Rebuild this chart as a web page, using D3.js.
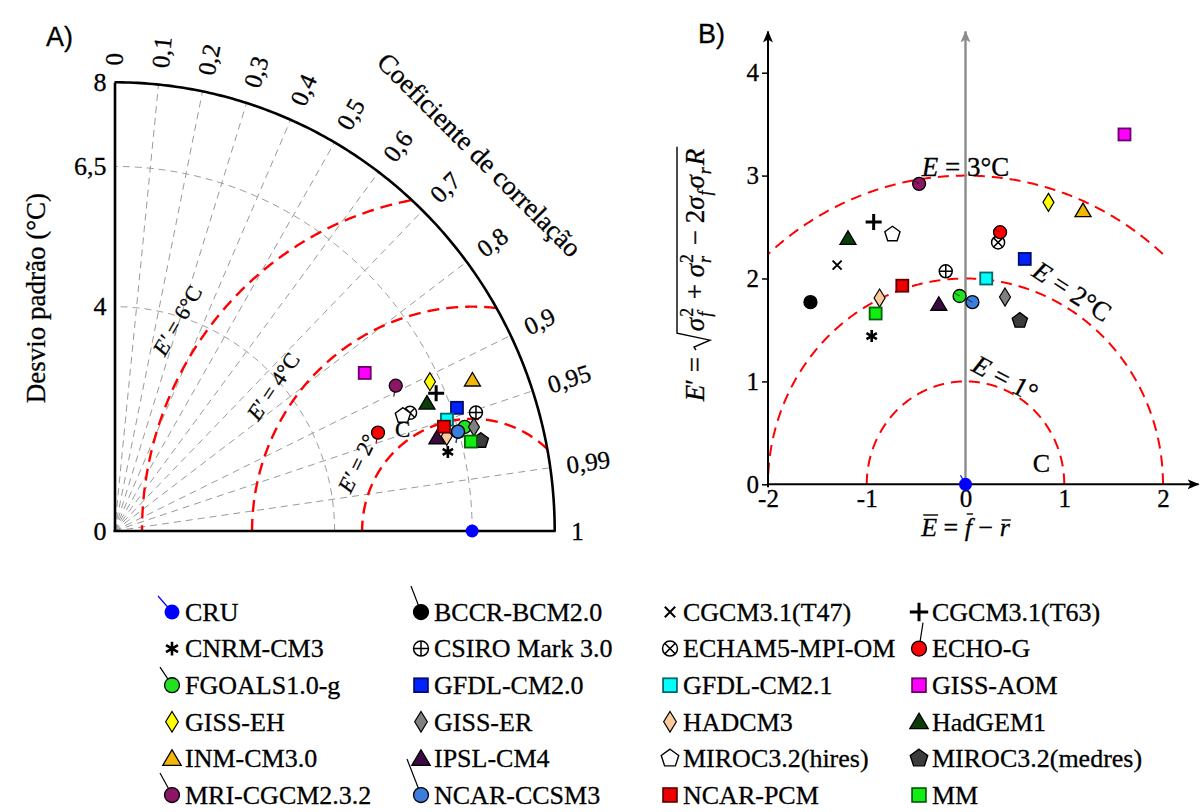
<!DOCTYPE html>
<html>
<head>
<meta charset="utf-8">
<script src="https://cdn.jsdelivr.net/npm/d3@7"></script>
<style>
	body { margin: 0; background: #fff; }
	svg { font-family: "Liberation Serif", serif; }
	svg text { stroke: #000; stroke-width: 0.3px; }
</style>
</head>
<body>
<svg id="chart" width="1200" height="812"></svg>
<script>

// Models, in legend order
var models = ["CRU", "BCCR-BCM2.0", "CGCM3.1(T47)", "CGCM3.1(T63)",
	"CNRM-CM3", "CSIRO Mark 3.0", "ECHAM5-MPI-OM", "ECHO-G",
	"FGOALS1.0-g", "GFDL-CM2.0", "GFDL-CM2.1", "GISS-AOM",
	"GISS-EH", "GISS-ER", "HADCM3", "HadGEM1",
	"INM-CM3.0", "IPSL-CM4", "MIROC3.2(hires)", "MIROC3.2(medres)",
	"MRI-CGCM2.3.2", "NCAR-CCSM3", "NCAR-PCM", "MM"];

// A) Taylor diagram: standard deviation (°C) and correlation
var stdDev = [6.5, 6.49, 6.6, 6.34,
	6.22, 6.90, 5.77, 5.10,
	6.63, 6.60, 6.36, 5.35,
	6.32, 6.79, 6.27, 6.12,
	7.04, 6.09, 5.63, 6.85,
	5.73, 6.49, 6.27, 6.67];
var correlation = [1.0, 0.962, 0.943, 0.922,
	0.974, 0.952, 0.931, 0.939,
	0.960, 0.943, 0.950, 0.850,
	0.907, 0.962, 0.963, 0.928,
	0.924, 0.962, 0.931, 0.972,
	0.892, 0.962, 0.955, 0.971];

// B) mean bias vs centered RMS difference
var meanBias = [0, -1.57, -1.30, -0.93,
	-0.95, -0.20, 0.33, 0.35,
	-0.06, 0.60, 0.21, 1.61,
	0.84, 0.40, -0.87, -1.19,
	1.19, -0.27, -0.74, 0.55,
	-0.47, 0.07, -0.64, -0.91];
var centeredRmse = [0, 1.77, 2.13, 2.55,
	1.44, 2.07, 2.35, 2.45,
	1.83, 2.19, 2.00, 3.40,
	2.74, 1.82, 1.81, 2.39,
	2.66, 1.75, 2.43, 1.59,
	2.92, 1.77, 1.93, 1.66];

var corrTicks = [0, 0.1, 0.2, 0.3, 0.4, 0.5, 0.6, 0.7, 0.8, 0.9, 0.95, 0.99, 1];
var corrTickLabels = ["0", "0,1", "0,2", "0,3", "0,4", "0,5", "0,6", "0,7", "0,8", "0,9", "0,95", "0,99", "1"];
var stdTicks = [0, 4, 6.5, 8];
var stdTickLabels = ["0", "4", "6,5", "8"];
var stdArcs = [4, 6.5];
var rmseArcsA = [2, 4, 6];
var rmseArcsB = [1, 2, 3];
var biasTicks = [-2, -1, 0, 1, 2];
var rmseTicks = [0, 1, 2, 3, 4];

// marker styles
var markerShape = ["circle", "circle", "x", "plus",
	"star", "oplus", "otimes", "circle",
	"circle", "square", "square", "square",
	"diamond", "diamond", "diamond", "triangle",
	"triangle", "triangle", "pentagon", "pentagon",
	"circle", "circle", "square", "square"];
var markerFill = ["#0000ff", "#000000", "#000", "#000",
	"#000", "#ffffff", "#ffffff", "#ff0000",
	"#22e022", "#0022ff", "#00ffff", "#ff00ff",
	"#ffff00", "#808080", "#fbc99c", "#0b3d0b",
	"#f2b705", "#3a0a40", "#ffffff", "#3c3c3c",
	"#8c1665", "#3b7ddd", "#ee0000", "#11ee11"];

var chart = d3.select("#chart");

function drawMarker(g, i, k) {
	var shape = markerShape[i], fill = markerFill[i];
	var edge = (fill === "#ffffff") ? "#000" : d3.color(fill).darker(2.5).formatHex();
	if (shape === "circle") {
		g.append("circle").attr("r", 6.5 * k).attr("fill", fill)
			.attr("stroke", i === 0 ? "none" : "#000").attr("stroke-width", 1.3);
	} else if (shape === "square") {
		g.append("rect").attr("x", -6 * k).attr("y", -6 * k)
			.attr("width", 12 * k).attr("height", 12 * k)
			.attr("fill", fill).attr("stroke", edge).attr("stroke-width", 1.8);
	} else if (shape === "diamond") {
		g.append("path").attr("d", "M0," + (-9 * k) + "L" + (5.5 * k) + ",0L0," + (9 * k) + "L" + (-5.5 * k) + ",0Z")
			.attr("fill", fill).attr("stroke", "#000").attr("stroke-width", 1.2);
	} else if (shape === "triangle") {
		g.append("path").attr("d", "M0," + (-7.5 * k) + "L" + (8 * k) + "," + (6 * k) + "L" + (-8 * k) + "," + (6 * k) + "Z")
			.attr("fill", fill).attr("stroke", "#000").attr("stroke-width", 1.3);
	} else if (shape === "pentagon") {
		var pts = d3.range(5).map(function(j) {
			var a = -Math.PI / 2 + j * 2 * Math.PI / 5;
			return [8 * k * Math.cos(a), 8 * k * Math.sin(a)];
		});
		g.append("path").attr("d", "M" + pts.join("L") + "Z")
			.attr("fill", fill).attr("stroke", "#000").attr("stroke-width", 1.4);
	} else if (shape === "oplus" || shape === "otimes") {
		var r = 6.5 * k, c = (shape === "oplus") ? r : r * 0.707;
		g.append("circle").attr("r", r).attr("fill", "#fff").attr("stroke", "#000").attr("stroke-width", 1.5);
		if (shape === "oplus") {
			g.append("path").attr("d", "M" + (-c) + ",0H" + c + "M0," + (-c) + "V" + c);
		} else {
			g.append("path").attr("d", "M" + (-c) + "," + (-c) + "L" + c + "," + c + "M" + (-c) + "," + c + "L" + c + "," + (-c));
		}
		g.select("path").attr("stroke", "#000").attr("stroke-width", 1.5);
	} else if (shape === "x") {
		var d = 4.5 * k;
		g.append("path").attr("d", "M" + (-d) + "," + (-d) + "L" + d + "," + d + "M" + (-d) + "," + d + "L" + d + "," + (-d))
			.attr("stroke", "#000").attr("stroke-width", 2);
	} else if (shape === "plus") {
		var p = 8 * k;
		g.append("path").attr("d", "M" + (-p) + ",0H" + p + "M0," + (-p) + "V" + p)
			.attr("stroke", "#000").attr("stroke-width", 3);
	} else if (shape === "star") {
		var s = 6 * k, path = "";
		[90, 30, -30].forEach(function(a) {
			var rad = a * Math.PI / 180;
			path += "M" + (s * Math.cos(rad)) + "," + (s * Math.sin(rad)) + "L" + (-s * Math.cos(rad)) + "," + (-s * Math.sin(rad));
		});
		g.append("path").attr("d", path).attr("stroke", "#000").attr("stroke-width", 2.6);
	}
}

// small piecewise math text helper (measures each piece)
function mathText(g, pieces, size) {
	var x = 0, radStart = 0, top = -size;
	pieces.forEach(function(p) {
		if (p.rad === "start") {
			radStart = x;
			x += 19;
			return;
		}
		if (p.rad === "end") {
			g.append("path")
				.attr("d", "M" + radStart + "," + (-8) + "l3,-2l7,16L" + (radStart + 17) + "," + top + "L" + (x + 2) + "," + top)
				.attr("fill", "none").attr("stroke", "#000").attr("stroke-width", 1.4);
			return;
		}
		if (p.ss || p.sub) {
			var sup = p.ss ? p.ss[0] : null, sub = p.ss ? p.ss[1] : p.sub;
			var w = 0;
			if (sup) {
				var t1 = g.append("text").attr("x", x + 1).attr("y", -size * 0.42).attr("font-size", size * 0.66).text(sup);
				w = t1.node().getComputedTextLength();
			}
			var t2 = g.append("text").attr("x", x + 1).attr("y", size * 0.27).attr("font-size", size * 0.66)
				.attr("font-style", "italic").text(sub);
			w = Math.max(w, t2.node().getComputedTextLength());
			x += w + 3;
			return;
		}
		var t = g.append("text").attr("x", x).attr("y", 0).attr("font-size", size)
			.attr("font-style", p.it ? "italic" : "normal")
			.attr("xml:space", "preserve").text(p.t);
		var tw = t.node().getComputedTextLength();
		if (p.bar) {
			g.append("line").attr("x1", x + 2).attr("x2", x + tw + 1)
				.attr("y1", p.bar).attr("y2", p.bar).attr("stroke", "#000").attr("stroke-width", 1.4);
		}
		x += tw + (p.gap || 0);
	});
	return x;
}

// ---------- A) Taylor diagram ----------
var xA = d3.scaleLinear().domain([0, 8]).range([114.5, 554.7]);
var yA = d3.scaleLinear().domain([0, 8]).range([531, 82.3]);

function polar(s, r) {
	var t = Math.acos(r);
	return [xA(s * Math.cos(t)), yA(s * Math.sin(t))];
}
var line = d3.line();
var angles = d3.range(0, 90.25, 0.5);

var taylor = chart.append("g");

// radial correlation grid
corrTicks.filter(function(c) { return c > 0 && c < 1; }).forEach(function(c) {
	taylor.append("path")
		.attr("d", line([polar(0, c), polar(8, c)]))
		.attr("stroke", "#9a9a9a").attr("stroke-width", 1).attr("stroke-dasharray", "7,5").attr("fill", "none");
});

// std arcs
stdArcs.forEach(function(s) {
	taylor.append("path")
		.attr("d", line(angles.map(function(a) { return polar(s, Math.cos(a * Math.PI / 180)); })))
		.attr("stroke", "#9a9a9a").attr("stroke-width", 1).attr("stroke-dasharray", "7,5").attr("fill", "none");
});

// centered RMS arcs around the reference point
var sRef = stdDev[0];
rmseArcsA.forEach(function(e) {
	var pts = d3.range(0, 180.25, 0.25).map(function(a) {
		var rad = a * Math.PI / 180;
		return [sRef + e * Math.cos(rad), e * Math.sin(rad)];
	}).filter(function(p) {
		return p[0] >= 0 && p[0] * p[0] + p[1] * p[1] <= 64;
	});
	taylor.append("path")
		.attr("d", line(pts.map(function(p) { return [xA(p[0]), yA(p[1])]; })))
		.attr("stroke", "#ff0000").attr("stroke-width", 2.4).attr("stroke-dasharray", "12,7").attr("fill", "none");
});

// outer arc and axes
taylor.append("path")
	.attr("d", line(angles.map(function(a) { return polar(8, Math.cos(a * Math.PI / 180)); })))
	.attr("stroke", "#000").attr("stroke-width", 2.6).attr("fill", "none");
taylor.append("line")
	.attr("x1", xA(0) - 1).attr("x2", xA(8) + 1).attr("y1", yA(0)).attr("y2", yA(0))
	.attr("stroke", "#000").attr("stroke-width", 2.6);

var stdAxis = taylor.append("g")
	.attr("transform", "translate(" + xA(0) + ",0)")
	.call(d3.axisLeft(yA).tickValues(stdTicks).tickSize(0).tickPadding(8)
		.tickFormat(function(d, i) { return stdTickLabels[i]; }));
stdAxis.select(".domain").attr("stroke", "#000").attr("stroke-width", 2.6);
stdAxis.selectAll("text").attr("font-family", "Liberation Serif").attr("font-size", 26).attr("fill", "#000");

// correlation labels
corrTicks.forEach(function(c, i) {
	var p = polar(8.3, c);
	var rot = -Math.acos(c) * 180 / Math.PI;
	taylor.append("text")
		.attr("transform", "translate(" + p[0] + "," + p[1] + ") rotate(" + rot + ")")
		.attr("dominant-baseline", "central")
		.attr("font-size", 25)
		.text(corrTickLabels[i]);
});

var tp = polar(9.43, 0.703);
taylor.append("text")
	.attr("transform", "translate(" + tp[0] + "," + tp[1] + ") rotate(45)")
	.attr("text-anchor", "middle").attr("dominant-baseline", "central")
	.attr("font-size", 27)
	.text("Coeficiente de correlação");

taylor.append("text")
	.attr("transform", "translate(45,298) rotate(-90)")
	.attr("text-anchor", "middle")
	.attr("font-size", 27)
	.text("Desvio padrão (°C)");

// E' labels along the red arcs
var arcLabelsA = [
	{ e: 6.55, phi: 145, rot: -60, text: "6°C" },
	{ e: 4.45, phi: 144.5, rot: -56, text: "4°C" },
	{ e: 2.42, phi: 150, rot: -64, text: "2°" }
];
arcLabelsA.forEach(function(l) {
	var rad = l.phi * Math.PI / 180;
	var px = xA(sRef + l.e * Math.cos(rad)), py = yA(l.e * Math.sin(rad));
	var t = taylor.append("text")
		.attr("transform", "translate(" + px + "," + py + ") rotate(" + l.rot + ")")
		.attr("text-anchor", "middle").attr("dominant-baseline", "central")
		.attr("font-size", 22).attr("xml:space", "preserve");
	t.append("tspan").attr("font-style", "italic").text("E′");
	t.append("tspan").text(" = " + l.text);
});
taylor.append("text")
	.attr("x", xA(sRef + 2.2 * Math.cos(125 * Math.PI / 180)))
	.attr("y", yA(2.2 * Math.sin(125 * Math.PI / 180)))
	.attr("text-anchor", "middle").attr("dominant-baseline", "central")
	.attr("font-size", 23).text("C");

// model points
models.forEach(function(m, i) {
	var p = polar(stdDev[i], correlation[i]);
	var g = taylor.append("g").attr("transform", "translate(" + p[0] + "," + p[1] + ")");
	if (markerShape[i] === "circle" && i > 0) {
		g.append("line").attr("x1", 0).attr("y1", 0).attr("x2", -2).attr("y2", 11)
			.attr("stroke", d3.color(markerFill[i]).darker(1.5)).attr("stroke-width", 1.2);
	}
	drawMarker(g, i, 1);
});

chart.append("text").attr("x", 46).attr("y", 46)
	.attr("font-family", "Liberation Sans, Arial, sans-serif").attr("font-size", 27).text("A)");

// ---------- B) bias vs centered RMS ----------
var xB = d3.scaleLinear().domain([-2, 2]).range([768, 1163]);
var yB = d3.scaleLinear().domain([0, 4]).range([484.3, 72.7]);

var panelB = chart.append("g");

// red circles E
rmseArcsB.forEach(function(e) {
	var pts = d3.range(0, 180.25, 0.25).map(function(a) {
		var rad = a * Math.PI / 180;
		return [e * Math.cos(rad), e * Math.sin(rad)];
	}).filter(function(p) { return p[0] >= -2.001 && p[0] <= 2.001; });
	panelB.append("path")
		.attr("d", line(pts.map(function(p) { return [xB(p[0]), yB(p[1])]; })))
		.attr("stroke", "#ff0000").attr("stroke-width", 2).attr("stroke-dasharray", "11,7").attr("fill", "none");
});

// arrows
var defs = chart.append("defs");
[["arrBlack", "#000"], ["arrGray", "#8c8c8c"]].forEach(function(a) {
	defs.append("marker").attr("id", a[0])
		.attr("viewBox", "0 0 12 10").attr("refX", 11).attr("refY", 5)
		.attr("markerWidth", 12).attr("markerHeight", 10).attr("markerUnits", "userSpaceOnUse")
		.attr("orient", "auto")
		.append("path").attr("d", "M0,0L12,5L0,10L3,5Z").attr("fill", a[1]);
});

panelB.append("line")
	.attr("x1", xB(0)).attr("x2", xB(0)).attr("y1", yB(0)).attr("y2", yB(4.4))
	.attr("stroke", "#8c8c8c").attr("stroke-width", 2.4).attr("marker-end", "url(#arrGray)");

var axB = panelB.append("g").attr("transform", "translate(" + xB(-2) + ",0)")
	.call(d3.axisLeft(yB).tickValues(rmseTicks).tickSize(6).tickSizeOuter(0).tickPadding(3)
		.tickFormat(function(d) { return String(d); }));
axB.select(".domain").remove();
axB.selectAll("line").attr("stroke", "#000").attr("stroke-width", 1.5);
axB.selectAll("text").attr("font-family", "Liberation Serif").attr("font-size", 25).attr("fill", "#000");

var axBx = panelB.append("g").attr("transform", "translate(0," + yB(0) + ")")
	.call(d3.axisBottom(xB).tickValues(biasTicks).tickSize(0).tickPadding(5)
		.tickFormat(function(d) { return String(d); }));
axBx.select(".domain").remove();
axBx.selectAll("text").attr("font-family", "Liberation Serif").attr("font-size", 25).attr("fill", "#000");

panelB.append("line")
	.attr("x1", xB(-2)).attr("x2", xB(-2)).attr("y1", yB(0) + 3).attr("y2", yB(4.4))
	.attr("stroke", "#000").attr("stroke-width", 2).attr("marker-end", "url(#arrBlack)");
panelB.append("line")
	.attr("x1", xB(-2)).attr("x2", xB(2.36)).attr("y1", yB(0)).attr("y2", yB(0))
	.attr("stroke", "#000").attr("stroke-width", 2).attr("marker-end", "url(#arrBlack)");

// E labels
function eLabel(x, y, rot, txt) {
	var t = panelB.append("text")
		.attr("transform", "translate(" + xB(x) + "," + yB(y) + ") rotate(" + rot + ")")
		.attr("text-anchor", "middle")
		.attr("font-size", 27).attr("xml:space", "preserve");
	t.append("tspan").attr("font-style", "italic").text("E");
	t.append("tspan").text(" = " + txt);
}
eLabel(0, 3.0, 0, "3°C");
eLabel(1.03, 1.8, 33, "2°C");
eLabel(0.36, 0.95, 28, "1°");
panelB.append("text").attr("x", xB(0.77)).attr("y", yB(0.12))
	.attr("text-anchor", "middle").attr("font-size", 26).text("C");

// model points
models.forEach(function(m, i) {
	var g = panelB.append("g")
		.attr("transform", "translate(" + xB(meanBias[i]) + "," + yB(centeredRmse[i]) + ")");
	drawMarker(g, i, 1);
	if (markerShape[i] === "circle") {
		g.append("line").attr("x1", 0).attr("y1", 0).attr("x2", -5).attr("y2", i === 0 ? -9 : -3)
			.attr("stroke", i === 0 ? "#0000ff" : d3.color(markerFill[i]).darker(2)).attr("stroke-width", 1.2);
	}
});

// axis titles
var yl = panelB.append("g").attr("transform", "translate(704,275) rotate(-90)");
var ylInner = yl.append("g");
var wy = mathText(ylInner, [
	{ t: "E", it: 1 }, { t: "′ = ", gap: 0 }, { rad: "start" },
	{ t: "σ", it: 1 }, { ss: ["2", "f"] }, { t: " + " },
	{ t: "σ", it: 1 }, { ss: ["2", "r"] }, { t: " − " },
	{ t: "2" }, { t: "σ", it: 1 }, { sub: "f" }, { t: "σ", it: 1 }, { sub: "r" }, { t: "R", it: 1 },
	{ rad: "end" }
], 27);
ylInner.attr("transform", "translate(" + (-wy / 2) + ",0)");

var xl = panelB.append("g").attr("transform", "translate(" + xB(0) + ",536)");
var xlInner = xl.append("g");
var wx = mathText(xlInner, [
	{ t: "E", it: 1, bar: -21 }, { t: " = " }, { t: "f", it: 1, bar: -22 }, { t: " − " }, { t: "r", it: 1, bar: -16 }
], 26);
xlInner.attr("transform", "translate(" + (-wx / 2) + ",0)");

chart.append("text").attr("x", 698).attr("y", 43)
	.attr("font-family", "Liberation Sans, Arial, sans-serif").attr("font-size", 27).text("B)");

// ---------- legend ----------
var legendCol = d3.scaleLinear().domain([0, 3]).range([172, 919]);
var legendRow = d3.scaleLinear().domain([0, 5]).range([612, 795]);
var legendTails = { 0: [-14, -16], 1: [-10, -26], 7: [4, -26], 8: [-12, -18], 20: [-12, -22], 21: [-14, -36] };

var legend = chart.append("g");
models.forEach(function(m, i) {
	var cx = legendCol(i % 4), cy = legendRow(Math.floor(i / 4));
	var g = legend.append("g").attr("transform", "translate(" + cx + "," + cy + ")");
	if (legendTails[i]) {
		g.append("line").attr("x1", 0).attr("y1", 0)
			.attr("x2", legendTails[i][0]).attr("y2", legendTails[i][1])
			.attr("stroke", i === 0 ? "#0000ff" : "#000").attr("stroke-width", 1.2);
	}
	drawMarker(g, i, 1.15);
	legend.append("text")
		.attr("x", cx + 13).attr("y", cy).attr("dy", "0.34em")
		.attr("font-size", 26)
		.text(m);
});

</script>
</body>
</html>
